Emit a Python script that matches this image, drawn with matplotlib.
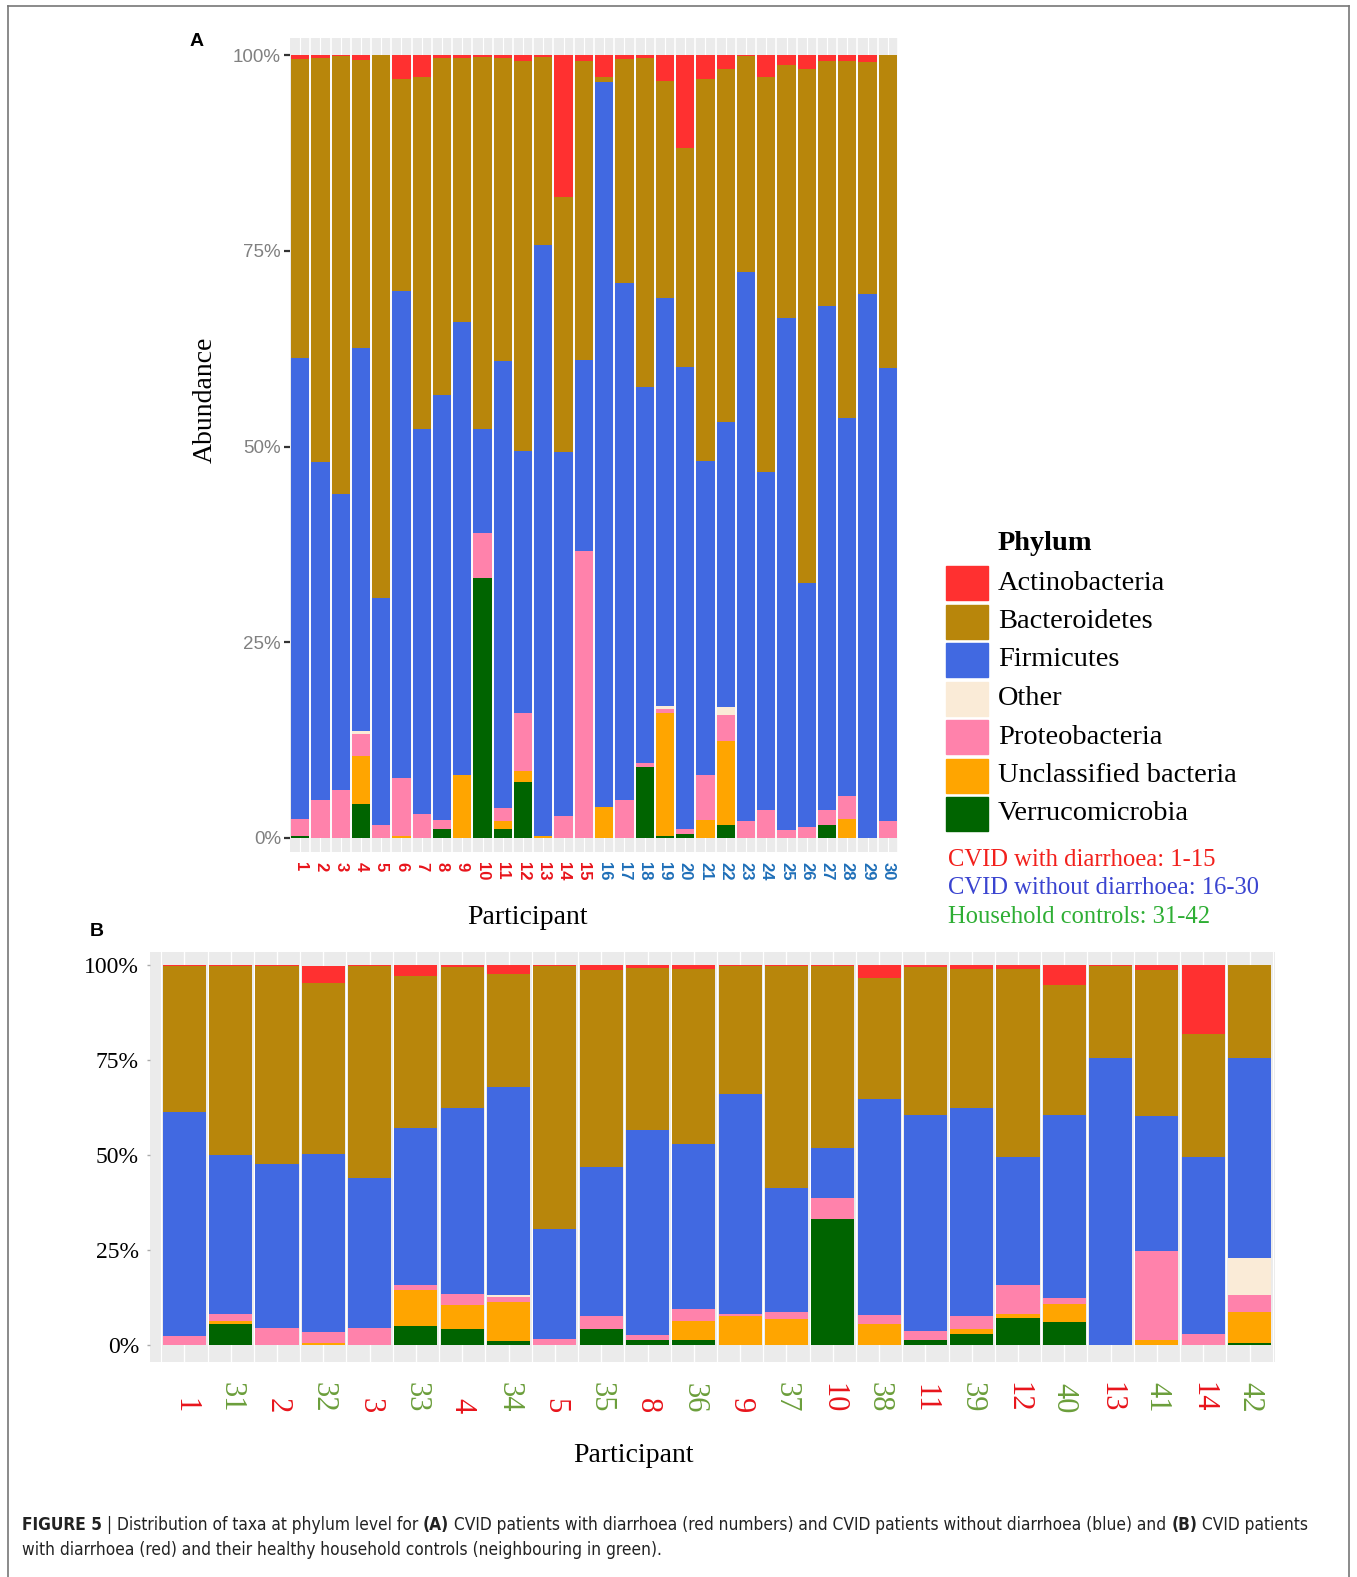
import matplotlib
matplotlib.use("Agg")
import matplotlib.pyplot as plt
import matplotlib.transforms as mtransforms
from matplotlib import font_manager
from matplotlib.font_manager import FontProperties
from matplotlib.lines import Line2D
from matplotlib.patches import Rectangle
import numpy as np

phyla = ["Actinobacteria", "Bacteroidetes", "Firmicutes", "Other",
         "Proteobacteria", "Unclassified bacteria", "Verrucomicrobia"]
phylum_colors = ["#FF3030", "#B8860B", "#4169E1", "#FAEBD7",
                 "#FF82AB", "#FFA500", "#006400"]

# panel A: participants 1-30
a_labels = [str(i) for i in range(1, 31)]
a_act = [0.005, 0.004, 0.001, 0.006, 0.000, 0.030, 0.028, 0.003, 0.003, 0.002,
         0.004, 0.008, 0.002, 0.181, 0.007, 0.028, 0.005, 0.003, 0.033, 0.118,
         0.031, 0.017, 0.001, 0.028, 0.012, 0.018, 0.007, 0.007, 0.009, 0.000]
a_bact = [0.382, 0.516, 0.560, 0.368, 0.694, 0.271, 0.450, 0.431, 0.338, 0.476,
          0.387, 0.498, 0.241, 0.326, 0.383, 0.006, 0.286, 0.421, 0.277, 0.280,
          0.487, 0.451, 0.276, 0.504, 0.324, 0.656, 0.314, 0.456, 0.296, 0.400]
a_firm = [0.589, 0.432, 0.378, 0.490, 0.290, 0.623, 0.491, 0.543, 0.578, 0.133,
          0.571, 0.334, 0.755, 0.465, 0.244, 0.927, 0.661, 0.480, 0.521, 0.590,
          0.401, 0.365, 0.701, 0.432, 0.654, 0.312, 0.643, 0.484, 0.695, 0.578]
a_other = [0, 0, 0, 0.003, 0, 0, 0, 0, 0, 0,
           0, 0, 0, 0, 0, 0, 0, 0, 0.004, 0,
           0, 0.010, 0, 0, 0, 0, 0, 0, 0, 0]
a_prot = [0.022, 0.048, 0.061, 0.028, 0.016, 0.073, 0.031, 0.011, 0.000, 0.057,
          0.016, 0.074, 0.000, 0.028, 0.366, 0.000, 0.048, 0.005, 0.005, 0.007,
          0.058, 0.033, 0.022, 0.036, 0.010, 0.014, 0.020, 0.029, 0.000, 0.022]
a_uncl = [0, 0, 0, 0.062, 0, 0.003, 0, 0, 0.081, 0,
          0.010, 0.015, 0.002, 0, 0, 0.039, 0, 0, 0.158, 0,
          0.023, 0.108, 0, 0, 0, 0, 0, 0.024, 0, 0]
a_verr = [0.002, 0, 0, 0.043, 0, 0, 0, 0.012, 0, 0.332,
          0.012, 0.071, 0, 0, 0, 0, 0, 0.091, 0.002, 0.005,
          0, 0.016, 0, 0, 0, 0, 0.016, 0, 0, 0]

# panel B: patients with diarrhoea next to their household controls
b_labels = ["1", "31", "2", "32", "3", "33", "4", "34", "5", "35", "8", "36",
            "9", "37", "10", "38", "11", "39", "12", "40", "13", "41", "14", "42"]
b_act = [0.004, 0.002, 0.003, 0.046, 0.002, 0.030, 0.006, 0.024, 0.002, 0.013, 0.007, 0.011,
         0.004, 0.002, 0.002, 0.035, 0.006, 0.010, 0.010, 0.054, 0.004, 0.013, 0.182, 0.000]
b_bact = [0.382, 0.499, 0.520, 0.449, 0.560, 0.398, 0.370, 0.296, 0.694, 0.519, 0.428, 0.460,
          0.337, 0.586, 0.480, 0.318, 0.390, 0.366, 0.496, 0.342, 0.241, 0.385, 0.324, 0.245]
b_firm = [0.591, 0.418, 0.432, 0.470, 0.393, 0.415, 0.490, 0.549, 0.289, 0.393, 0.540, 0.435,
          0.578, 0.326, 0.132, 0.569, 0.568, 0.549, 0.337, 0.480, 0.755, 0.354, 0.466, 0.526]
b_other = [0, 0, 0, 0, 0, 0, 0, 0.006, 0, 0, 0, 0,
           0, 0, 0, 0, 0, 0, 0, 0, 0, 0, 0, 0.097]
b_prot = [0.023, 0.017, 0.045, 0.029, 0.045, 0.013, 0.029, 0.011, 0.015, 0.034, 0.013, 0.030,
          0.006, 0.019, 0.054, 0.023, 0.024, 0.033, 0.075, 0.017, 0.000, 0.236, 0.028, 0.046]
b_uncl = [0, 0.010, 0, 0.004, 0, 0.095, 0.062, 0.104, 0, 0, 0, 0.052,
          0.075, 0.067, 0, 0.055, 0, 0.013, 0.011, 0.047, 0, 0.012, 0, 0.080]
b_verr = [0, 0.054, 0, 0, 0, 0.049, 0.043, 0.010, 0, 0.041, 0.012, 0.012,
          0, 0, 0.332, 0, 0.012, 0.029, 0.071, 0.060, 0, 0, 0, 0.006]

group_lines = ["CVID with diarrhoea: 1-15", "CVID without diarrhoea: 16-30",
               "Household controls: 31-42"]
group_colors = ["#F2201C", "#3A44D0", "#2EAE34"]

SERIF = "Liberation Serif"
SANS = "Liberation Sans"


# a condensed sans for the caption, if one is installed
def caption_fonts():
    reg, bold = None, None
    for f in font_manager.fontManager.ttflist:
        narrow = ("Narrow" in f.name or "Condensed" in f.name
                  or f.stretch in ("condensed", "semi-condensed", 600, 700))
        if not narrow or f.style != "normal":
            continue
        if any(k in f.name for k in ("Liberation Sans", "DejaVu Sans", "Roboto",
                                      "Open Sans", "Noto Sans", "Lato", "Inter")):
            w = f.weight if isinstance(f.weight, int) else (700 if "bold" in str(f.weight) else 400)
            if w >= 600 and bold is None:
                bold = FontProperties(fname=f.fname)
            elif w < 600 and reg is None:
                reg = FontProperties(fname=f.fname)
    if reg is None:
        reg = FontProperties(family=SANS)
    if bold is None:
        bold = FontProperties(family=SANS, weight="bold") if reg.get_file() is None else reg
    return {"normal": reg, "bold": bold}


cap_fonts = caption_fonts()

W, H = 1357, 1577
fig = plt.figure(figsize=(W / 100, H / 100), dpi=100)


def fx(px):
    return px / W


def fy(py):
    return 1 - py / H


def draw_stack(ax, x, series, width):
    bottom = np.zeros(len(x))
    for idx in [6, 5, 4, 3, 2, 1, 0]:
        vals = np.array(series[idx], dtype=float)
        ax.bar(x, vals, width, bottom=bottom, color=phylum_colors[idx],
               linewidth=0, zorder=3)
        bottom += vals


# ---------- panel A ----------
axA = fig.add_axes([fx(290), fy(852), fx(898) - fx(290), fy(38) - fy(852)])
xa = np.arange(1, len(a_labels) + 1)
axA.set_facecolor("#EBEBEB")
for xv in xa:
    axA.axvline(xv + 0.5, color="white", lw=1.2, zorder=1)
    axA.axvline(xv, color="white", lw=0.8, zorder=1)
draw_stack(axA, xa, [a_act, a_bact, a_firm, a_other, a_prot, a_uncl, a_verr], 0.9)
axA.set_xlim(0.5, len(a_labels) + 0.5)
axA.set_ylim(-0.018, 1.022)
axA.set_yticks([0, 0.25, 0.5, 0.75, 1.0])
axA.set_yticklabels(["0%", "25%", "50%", "75%", "100%"], family=SANS,
                    fontsize=13.5, color="#808080")
axA.tick_params(axis="y", length=4.5, width=1.6, color="#333333", pad=2)
axA.set_xticks([])
for s in axA.spines.values():
    s.set_visible(False)
trA = mtransforms.blended_transform_factory(axA.transData, fig.transFigure)
for xv, lab in zip(xa, a_labels):
    col = "#E8141B" if int(lab) <= 15 else "#1F6FB8"
    axA.text(xv, fy(862), lab, transform=trA, rotation=270, ha="center",
             va="top", family=SANS, fontweight="bold", fontsize=12, color=col)

fig.text(fx(205), fy(400), "Abundance", rotation=90, ha="center", va="center",
         family=SERIF, fontsize=20)
fig.text(fx(527), fy(917), "Participant", ha="center", va="center",
         family=SERIF, fontsize=20)
fig.text(fx(197), fy(42), "A", ha="center", va="center", family=SANS,
         fontweight="bold", fontsize=14)

# legend
fig.text(fx(998), fy(543), "Phylum", ha="left", va="center", family=SERIF,
         fontweight="bold", fontsize=20.4)
for i, (name, col) in enumerate(zip(phyla, phylum_colors)):
    top = 566 + i * 38.5
    fig.patches.append(Rectangle((fx(946), fy(top + 34)), fx(42), 34 / H,
                                 transform=fig.transFigure, color=col))
    fig.text(fx(998), fy(top + 17), name, ha="left", va="center",
             family=SERIF, fontsize=20.4)
for i, (txt, col) in enumerate(zip(group_lines, group_colors)):
    fig.text(fx(948), fy(860 + i * 28.5), txt, ha="left", va="center",
             family=SERIF, fontsize=17.7, color=col)

# ---------- panel B ----------
axB = fig.add_axes([fx(150), fy(1362), fx(1275) - fx(150), fy(952) - fy(1362)])
xb = np.arange(len(b_labels))
axB.set_facecolor("#EBEBEB")
for xv in xb:
    axB.axvline(xv, color="white", lw=1.0, zorder=1)
    axB.axvline(xv + 0.5, color="white", lw=0.8, zorder=1)
    axB.axvline(xv - 0.5, color="white", lw=0.8, zorder=1)
draw_stack(axB, xb, [b_act, b_bact, b_firm, b_other, b_prot, b_uncl, b_verr], 0.93)
axB.set_xlim(-0.743, len(b_labels) - 0.45)
axB.set_ylim(-0.045, 1.034)
axB.set_yticks([0, 0.25, 0.5, 0.75, 1.0])
axB.set_yticklabels(["0%", "25%", "50%", "75%", "100%"], family=SERIF,
                    fontsize=17, color="black")
axB.tick_params(axis="y", length=2, width=1, color="#AAAAAA", pad=6)
axB.set_xticks([])
for s in axB.spines.values():
    s.set_visible(False)
trB = mtransforms.blended_transform_factory(axB.transData, fig.transFigure)
for xv, lab in zip(xb, b_labels):
    col = "#6B9E3B" if int(lab) >= 31 else "#E8141B"
    axB.text(xv, fy(1413), lab, transform=trB, rotation=270, ha="center",
             va="bottom", family=SERIF, fontsize=22, color=col)

fig.text(fx(633), fy(1455), "Participant", ha="center", va="center",
         family=SERIF, fontsize=20)
fig.text(fx(97), fy(931), "B", ha="center", va="center", family=SANS,
         fontweight="bold", fontsize=14)

# ---------- caption ----------
cap1 = [("FIGURE 5", "bold"), (" | ", "normal"),
        ("Distribution of taxa at phylum level for ", "normal"), ("(A)", "bold"),
        (" CVID patients with diarrhoea (red numbers) and CVID patients without diarrhoea (blue) and ", "normal"),
        ("(B)", "bold"), (" CVID patients", "normal")]
cap2 = [("with diarrhoea (red) and their healthy household controls (neighbouring in green).", "normal")]

renderer = fig.canvas.get_renderer()


def make_run(txt, wt, x, ypx, size):
    fp = cap_fonts[wt].copy()
    fp.set_size(size)
    if fp.get_file() is None and wt == "bold":
        fp.set_weight("bold")
    return fig.text(fx(x), fy(ypx), txt, fontproperties=fp, ha="left",
                    va="center", color="#222222")


def line_width(runs, size):
    total = 0
    for txt, wt in runs:
        t = make_run(txt, wt, 0, 0, size)
        total += t.get_window_extent(renderer).width
        t.remove()
    return total


cap_size = min(16.0, 13.0 * 1291 / line_width(cap1, 13.0))


def draw_runs(runs, x0, ypx, size):
    x = x0
    for txt, wt in runs:
        t = make_run(txt, wt, x, ypx, size)
        x += t.get_window_extent(renderer).width


draw_runs(cap1, 22, 1525, cap_size)
draw_runs(cap2, 22, 1550, cap_size)

# page border
for xs, ys in [([8, 8], [H, 6]), ([8, 1349], [6, 6]), ([1349, 1349], [6, H])]:
    fig.add_artist(Line2D([fx(v) for v in xs], [fy(v) for v in ys],
                          transform=fig.transFigure, color="#777777", lw=1.2))

fig.savefig("out.png", dpi=100)
